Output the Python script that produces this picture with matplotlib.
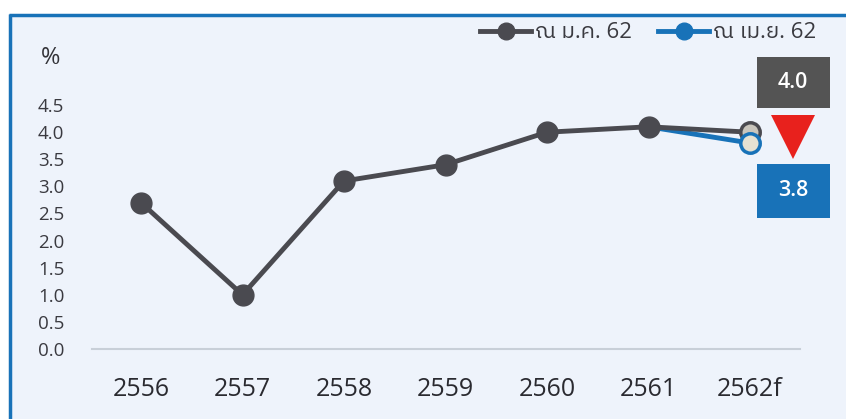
import matplotlib
matplotlib.use('Agg')
from matplotlib import pyplot as plt
from matplotlib import font_manager
from matplotlib.ft2font import FT2Font
from matplotlib.lines import Line2D
from matplotlib.patches import Rectangle
import numpy as np

# Chart data
years = ['2556', '2557', '2558', '2559', '2560', '2561', '2562f']
growth_jan = [2.7, 1.0, 3.1, 3.4, 4.0, 4.1, 4.0]
growth_apr = [np.nan, np.nan, np.nan, np.nan, np.nan, 4.1, 3.8]
y_ticks = [0.0, 0.5, 1.0, 1.5, 2.0, 2.5, 3.0, 3.5, 4.0, 4.5]
label_jan = 'ณ ม.ค. 62'
label_apr = 'ณ เม.ย. 62'
old_value = '4.0'
new_value = '3.8'

GRAY = '#4a4a50'
BLUE = '#1872b8'
BG = '#eef3fb'


def find_thai_font():
    # Look for any installed font that has Thai glyphs
    found = []
    for f in font_manager.fontManager.ttflist:
        try:
            cmap = FT2Font(f.fname).get_charmap()
        except Exception:
            continue
        if ord('ณ') in cmap:
            found.append(f.name)
    found.sort(key=lambda n: (0 if 'Sans' in n else 1, n))
    return found[0] if found else None


thai = find_thai_font()
families = ['Open Sans', 'DejaVu Sans']
if thai:
    families = ['Open Sans', thai, 'DejaVu Sans']
plt.rcParams['font.family'] = families

W, H = 846, 419
fig = plt.figure(figsize=(W / 100, H / 100), dpi=100)
fig.patch.set_facecolor(BG)


def fx(px):
    return px / W


def fy(py):
    return 1 - py / H


# White strips outside the panel and the blue frame
fig.patches.append(Rectangle((0, fy(15)), 1, 1 - fy(15), transform=fig.transFigure,
                             facecolor='white', edgecolor='none', zorder=-5))
fig.patches.append(Rectangle((0, 0), fx(9), 1, transform=fig.transFigure,
                             facecolor='white', edgecolor='none', zorder=-5))
fig.add_artist(Line2D([fx(9), 1], [fy(15.5), fy(15.5)], color=BLUE, lw=2.5, solid_capstyle='butt'))
fig.add_artist(Line2D([fx(9.5), fx(9.5)], [0, fy(14.5)], color=BLUE, lw=2.5, solid_capstyle='butt'))

# Axes placed so that the category spacing matches the reference
x0, x1, ytop, ybot = 92, 800, 20, 349
ax = fig.add_axes([fx(x0), fy(ybot), fx(x1 - x0), (ybot - ytop) / H])
ax.set_facecolor('none')
ax.set_zorder(2)
step = 101.5
ax.set_xlim((x0 - 141) / step, (x1 - 141) / step)
ax.set_ylim(0, (ybot - ytop) / 54.2)

x = np.arange(len(years))
ax.plot(x, growth_jan, color=GRAY, lw=3.5, zorder=3)
ax.plot(x[:-1], growth_jan[:-1], 'o', color=GRAY, ms=15, zorder=5)
ax.plot(x[-1], growth_jan[-1], 'o', mfc='#c9c5bc', mec=GRAY, mew=2.5, ms=14, zorder=4)
ax.plot(x, growth_apr, color=BLUE, lw=3.5, zorder=2)
ax.plot(x[-1], growth_apr[-1], 'o', mfc='#e6e1d2', mec=BLUE, mew=2.5, ms=14, zorder=4)

for s in ['top', 'right', 'left']:
    ax.spines[s].set_visible(False)
ax.spines['bottom'].set_color('#c8cfd8')
ax.spines['bottom'].set_linewidth(1.5)

ax.set_xticks(x)
ax.set_xticklabels(years, fontsize=18, color='#2a2a30')
ax.set_yticks(y_ticks)
ax.set_yticklabels(['%.1f' % v for v in y_ticks], fontsize=13.5, color='#3a3a40')
ax.tick_params(axis='x', length=0, pad=20)
ax.tick_params(axis='y', length=0, pad=20)

fig.text(fx(51), fy(58), '%', fontsize=17, color='#333338', ha='center', va='center')

# Legend
handles = [Line2D([], [], color=GRAY, lw=3.5, marker='o', ms=12),
           Line2D([], [], color=BLUE, lw=3.5, marker='o', ms=12)]
fig.legend(handles, [label_jan, label_apr], loc='center right', bbox_to_anchor=(fx(836), fy(33)),
           ncol=2, frameon=False, fontsize=16, handlelength=2.3, handletextpad=0.15,
           columnspacing=1.2, labelcolor='#3a3a40')

# Revision callout on the right
cx = (793 - 141) / step
bw = 73 / step
ax.add_patch(Rectangle((cx - bw / 2, (ybot - 108) / 54.2), bw, 51 / 54.2,
                       facecolor='#545454', edgecolor='none', clip_on=False, zorder=6))
ax.text(cx, (ybot - 83) / 54.2, old_value, color='white', fontsize=15.5, fontweight='semibold',
        ha='center', va='center', zorder=7, clip_on=False)
ax.plot(cx, (ybot - 137) / 54.2, 'v', color='#e8211d', ms=31, mew=0, clip_on=False, zorder=6)
ax.add_patch(Rectangle((cx - bw / 2, (ybot - 218) / 54.2), bw, 54 / 54.2,
                       facecolor=BLUE, edgecolor='none', clip_on=False, zorder=6))
ax.text(cx, (ybot - 191) / 54.2, new_value, color='white', fontsize=15.5, fontweight='semibold',
        ha='center', va='center', zorder=7, clip_on=False)

fig.savefig('out.png', dpi=100, facecolor=fig.get_facecolor())
